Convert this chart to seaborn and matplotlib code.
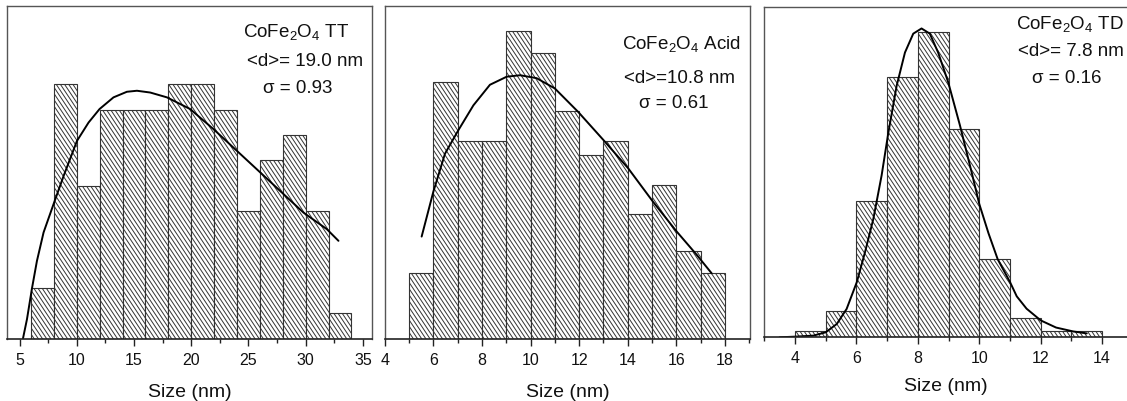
import numpy as np
import pandas as pd
import matplotlib
matplotlib.use("Agg")
import matplotlib.pyplot as plt
from matplotlib.ticker import MultipleLocator
from matplotlib.path import Path
from matplotlib import hatch as mhatch
import seaborn as sns

# ---------------- data ----------------
# Panel 1: CoFe2O4 TT
tt_edges = [6, 8, 10, 12, 14, 16, 18, 20, 22, 24, 26, 28, 30, 32, 34]
tt_counts = [2, 10, 6, 9, 9, 9, 10, 10, 9, 5, 7, 8, 5, 1]
tt_fit_x = [5.30, 5.65, 6.09, 6.52, 7.10, 7.97, 8.85, 10.02, 11.03, 11.99,
            13.21, 14.38, 15.26, 16.42, 17.88, 19.91, 21.95, 23.99, 26.03,
            27.92, 29.81, 31.85, 32.87]
tt_fit_y = [0.0, 0.76, 1.98, 3.05, 4.17, 5.28, 6.39, 7.77, 8.49, 9.02,
            9.48, 9.70, 9.74, 9.67, 9.48, 9.02, 8.23, 7.38, 6.53,
            5.74, 4.95, 4.30, 3.84]
tt_text = ["CoFe$_2$O$_4$ TT", "<d>= 19.0 nm", "σ = 0.93"]

# Panel 2: CoFe2O4 Acid
ac_edges = [5, 6, 7, 8, 9, 10, 11, 12, 13, 14, 15, 16, 17, 18]
ac_counts = [9, 35, 27, 27, 42, 39, 31, 25, 27, 17, 21, 12, 9]
ac_fit_x = [5.52, 6.00, 6.48, 7.03, 7.65, 8.33, 9.02, 9.57, 10.25, 11.00,
            11.96, 12.99, 14.02, 15.05, 16.01, 16.84, 17.45]
ac_fit_y = [13.9, 20.0, 25.2, 28.4, 31.8, 34.6, 35.7, 35.9, 35.5, 34.1,
            30.9, 27.1, 23.2, 18.6, 14.6, 11.4, 8.9]
ac_text = ["CoFe$_2$O$_4$ Acid", "<d>=10.8 nm", "σ = 0.61"]

# Panel 3: CoFe2O4 TD
td_edges = [4, 5, 6, 7, 8, 9, 10, 11, 12, 13, 14]
td_counts = [1, 4, 21, 40, 47, 32, 12, 3, 1, 1]
td_fit_x = [3.50, 4.00, 4.60, 5.00, 5.36, 5.68, 6.01, 6.28, 6.55, 6.82, 7.04,
            7.31, 7.58, 7.85, 8.12, 8.39, 8.66, 8.99, 9.37, 9.75, 10.00,
            10.30, 10.60, 11.00, 11.22, 11.54, 12.00, 12.50, 13.06, 13.50]
td_fit_y = [0.0, 0.1, 0.26, 0.77, 2.05, 4.36, 8.46, 13.1, 18.2, 24.9, 31.5,
            38.7, 43.8, 46.7, 47.5, 46.7, 43.8, 39.2, 32.6, 25.4, 20.5,
            16.0, 12.0, 8.5, 6.3, 4.4, 2.6, 1.5, 0.9, 0.6]
td_text = ["CoFe$_2$O$_4$ TD", "<d>= 7.8 nm", "σ = 0.16"]

x_label = "Size (nm)"


# ---------------- steeper "\" hatch (about 56 degrees) ----------------
class SteepSouthEastHatch(mhatch.HatchPatternBase):
    SLOPE = 1.5

    def __init__(self, hatch, density):
        n = int((hatch.count('\\') + hatch.count('x') + hatch.count('X'))
                * density)
        n = int(np.ceil(n / 3.0) * 3) if n else 0
        self.N = n
        if n:
            span = 1.0 + 1.0 / self.SLOPE
            self.num_lines = int(round(span * n)) + 1
            self.num_vertices = self.num_lines * 2
        else:
            self.num_lines = 0
            self.num_vertices = 0

    def set_vertices_and_codes(self, vertices, codes):
        c = np.arange(self.num_lines) / self.N
        vertices[0::2, 0] = c - 1.0 / self.SLOPE
        vertices[0::2, 1] = 1.0
        vertices[1::2, 0] = c
        vertices[1::2, 1] = 0.0
        codes[0::2] = Path.MOVETO
        codes[1::2] = Path.LINETO


try:
    mhatch._hatch_types = [SteepSouthEastHatch if t is mhatch.SouthEastHatch
                           else t for t in mhatch._hatch_types]
except Exception:
    pass

# ---------------- style ----------------
sns.set_theme(style="white")
plt.rcParams["font.family"] = ["Liberation Sans", "DejaVu Sans"]
plt.rcParams["mathtext.fontset"] = "custom"
plt.rcParams["mathtext.rm"] = "Liberation Sans"
plt.rcParams["mathtext.it"] = "Liberation Sans:italic"
plt.rcParams["mathtext.bf"] = "Liberation Sans:bold"
plt.rcParams["hatch.linewidth"] = 0.7

W, H = 1127, 402
fig = plt.figure(figsize=(W / 100, H / 100), dpi=100)


def frac(l, t, r, b):
    return [l / W, 1 - b / H, (r - l) / W, (b - t) / H]


panels = [
    dict(rect=frac(7.3, 7.3, 372, 339.5), edges=tt_edges, counts=tt_counts,
         fx=tt_fit_x, fy=tt_fit_y, xlim=(3.93, 35.8), ylim=(0, 13.06),
         major=5, minor=2.5, text=tt_text, lpad=12,
         tpos=[(296, 37), (305, 66), (298, 93)], right=True),
    dict(rect=frac(384.7, 7.3, 750, 339.5), edges=ac_edges, counts=ac_counts,
         fx=ac_fit_x, fy=ac_fit_y, xlim=(4.0, 19.03), ylim=(0, 45.3),
         major=2, minor=1, text=ac_text, lpad=12,
         tpos=[(681, 49), (679, 83), (674, 108)], right=True),
    dict(rect=frac(764, 8, 1127, 338.3), edges=td_edges, counts=td_counts,
         fx=td_fit_x, fy=td_fit_y, xlim=(2.99, 14.81), ylim=(0, 50.8),
         major=2, minor=1, text=td_text, lpad=8,
         tpos=[(1070, 29), (1071, 56), (1067, 83)], right=False),
]

hatch = "\\" * 4
edge_col = "#333333"

for p in panels:
    ax = fig.add_axes(p["rect"])
    edges = [float(e) for e in p["edges"]]
    centers = [(a + b) / 2 for a, b in zip(edges[:-1], edges[1:])]
    df = pd.DataFrame({"size": centers, "count": p["counts"]})
    sns.histplot(data=df, x="size", weights="count", bins=edges, ax=ax,
                 color="white", edgecolor=edge_col, linewidth=0.8,
                 hatch=hatch, alpha=1.0)
    fit = pd.DataFrame({"x": p["fx"], "y": p["fy"]})
    sns.lineplot(data=fit, x="x", y="y", ax=ax, color="black", lw=1.4,
                 estimator=None)
    ax.set_xlim(*p["xlim"])
    ax.set_ylim(*p["ylim"])
    ax.set_ylabel("")
    ax.set_yticks([])
    ax.xaxis.set_major_locator(MultipleLocator(p["major"]))
    ax.xaxis.set_minor_locator(MultipleLocator(p["minor"]))
    ax.tick_params(axis="x", which="major", direction="out", length=5,
                   width=1, color="#222222", labelsize=11.5, pad=4.5,
                   bottom=True, labelcolor="#111111")
    ax.tick_params(axis="x", which="minor", direction="out", length=3,
                   width=1, color="#222222", bottom=True)
    ax.set_xlabel(x_label, fontsize=14, labelpad=p["lpad"], color="#111111")
    for side in ["top", "left", "right"]:
        ax.spines[side].set_color("#555555")
        ax.spines[side].set_linewidth(1.0)
    ax.spines["bottom"].set_color("#222222")
    ax.spines["bottom"].set_linewidth(1.2)
    ax.spines["right"].set_visible(p["right"])
    for txt, (tx, ty) in zip(p["text"], p["tpos"]):
        fig.text(tx / W, 1 - ty / H, txt, ha="center", va="baseline",
                 fontsize=13.5, color="#111111")

fig.savefig("out.png", dpi=100)
